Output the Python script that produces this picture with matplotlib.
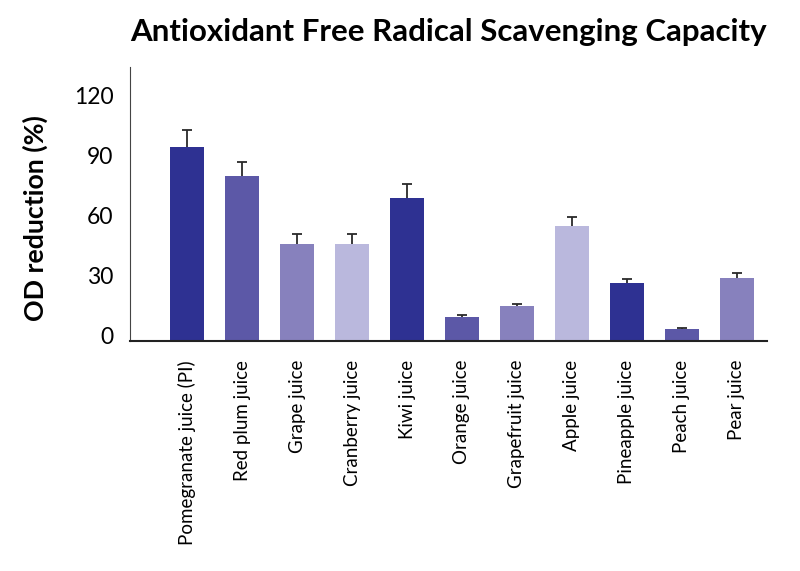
import matplotlib.pyplot as plt
from matplotlib.transforms import ScaledTranslation

juices = ["Pomegranate juice (PI)", "Red plum juice", "Grape juice", "Cranberry juice",
          "Kiwi juice", "Orange juice", "Grapefruit juice", "Apple juice",
          "Pineapple juice", "Peach juice", "Pear juice"]
od_reduction = [96.9, 82.2, 48.2, 48.2, 71.1, 11.9, 17.2, 57.1, 28.6, 5.7, 31.4]
od_error = [8.4, 7.2, 5, 5, 7.2, 0.7, 1, 4.5, 2, 0.5, 2.5]
yticks = [0, 30, 60, 90, 120]

palette = ["#2e3192", "#5c58a7", "#8781bd", "#bab8dd"]
colors = [palette[i % 4] for i in range(len(juices))]

plt.rcParams['font.family'] = ['Lato', 'DejaVu Sans']

fig = plt.figure(figsize=(8, 5.71), dpi=100)
ax = fig.add_axes([130 / 800, 1 - 340.5 / 571, (767 - 130) / 800, (340.5 - 67) / 571])

x = list(range(len(juices)))
ax.bar(x, od_reduction, width=0.62, color=colors, zorder=2)
# upper error bars only
_, caps, _ = ax.errorbar(x, od_reduction, yerr=[[0] * len(od_error), od_error],
                         fmt="none", ecolor="#2a2a2a", elinewidth=1.3,
                         capsize=3.3, capthick=1.3, zorder=3)
caps[0].set_visible(False)

ax.set_xlim(-1.04, 10.55)
ax.set_ylim(0, 136.75)
ax.set_yticks(yticks)
ax.set_xticks(x)
ax.set_xticklabels(juices, rotation=90, fontsize=13.5)
ax.tick_params(axis='both', length=0)
ax.tick_params(axis='y', labelsize=16.5, pad=12)
ax.tick_params(axis='x', pad=14)
shift = ScaledTranslation(0, 5 / 100, fig.dpi_scale_trans)
for lab in ax.get_yticklabels():
    lab.set_transform(lab.get_transform() + shift)

for side in ["top", "right"]:
    ax.spines[side].set_visible(False)
ax.spines["left"].set_color("#444444")
ax.spines["bottom"].set_color("#222222")
ax.spines["bottom"].set_linewidth(1.5)

fig.text(35 / 800, 1 - 218 / 571, "OD reduction (%)", rotation=90,
         ha="center", va="center", fontsize=19.3, fontweight="bold")
fig.text(448 / 800, 1 - 32 / 571, "Antioxidant Free Radical Scavenging Capacity",
         ha="center", va="center", fontsize=22.5, fontweight="bold")

plt.savefig("out.png", dpi=100)
